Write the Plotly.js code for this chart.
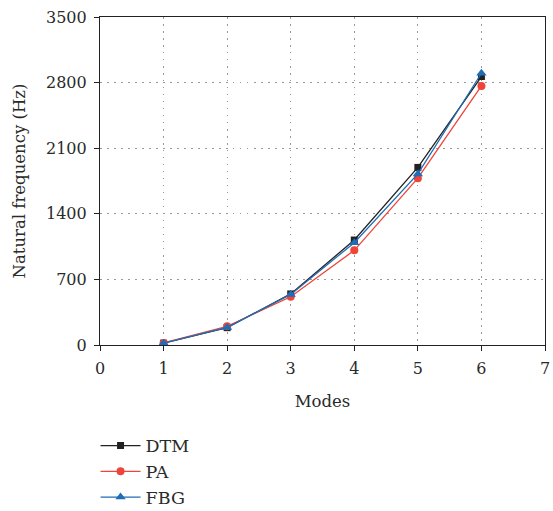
<!DOCTYPE html>
<html>
<head>
<meta charset="utf-8">
<script src="https://cdn.plot.ly/plotly-3.0.1.min.js"></script>
<style>html,body{margin:0;padding:0;background:#fff;}</style>
</head>
<body>
<div id="chart" style="width:553px;height:511px;"></div>
<script>
const modes = [1, 2, 3, 4, 5, 6];
const dtm = [20, 185, 545, 1120, 1895, 2865];
const pa  = [22, 200, 515, 1010, 1780, 2765];
const fbg = [20, 188, 540, 1092, 1825, 2900];
const yTicks = [0, 700, 1400, 2100, 2800, 3500];
const xTicks = [0, 1, 2, 3, 4, 5, 6, 7];

const fam = '"DejaVu Serif", "Liberation Serif", serif';
const tickFont = {family: fam, color: '#2a2a2a', size: 16};
const titleFont = {family: fam, color: '#2a2a2a', size: 16.5};
const legendFont = {family: fam, color: '#2a2a2a', size: 17.5};

const traces = [
  {x: modes, y: dtm, name: 'DTM', mode: 'lines+markers', type: 'scatter',
   line: {color: '#222222', width: 1.3}, marker: {symbol: 'square', size: 7, color: '#222222'}},
  {x: modes, y: pa, name: 'PA', mode: 'lines+markers', type: 'scatter',
   line: {color: '#ee4439', width: 1.3}, marker: {symbol: 'circle', size: 8, color: '#ee4439'}},
  {x: modes, y: fbg, name: 'FBG', mode: 'lines+markers', type: 'scatter',
   line: {color: '#1f6db5', width: 1.3}, marker: {symbol: 'triangle-up', size: 9, color: '#1f6db5'}}
];

const axisCommon = {
  showline: true, mirror: true, linecolor: '#222', linewidth: 1.2,
  ticks: 'outside', ticklen: 5, tickcolor: '#222', ticklabelstandoff: 4,
  showgrid: true, gridcolor: '#999', griddash: '1.5px,5.5px', gridwidth: 1.3,
  zeroline: false, tickfont: tickFont
};

const layout = {
  width: 553, height: 511,
  margin: {l: 100, r: 8, t: 17, b: 166, autoexpand: false},
  paper_bgcolor: '#fff', plot_bgcolor: '#fff',
  font: tickFont,
  xaxis: Object.assign({}, axisCommon, {
    range: [0, 7], tickvals: xTicks,
    title: {text: 'Modes', font: titleFont, standoff: 18}
  }),
  yaxis: Object.assign({}, axisCommon, {
    range: [0, 3500], tickvals: yTicks,
    title: {text: 'Natural frequency (Hz)', font: titleFont, standoff: 16}
  }),
  showlegend: true,
  legend: {x: -0.01, xanchor: 'left', y: -0.252, yanchor: 'top',
    font: legendFont, itemwidth: 40, tracegroupgap: 0, bgcolor: 'rgba(0,0,0,0)'}
};

Plotly.newPlot('chart', traces, layout, {displayModeBar: false});
</script>
</body>
</html>
